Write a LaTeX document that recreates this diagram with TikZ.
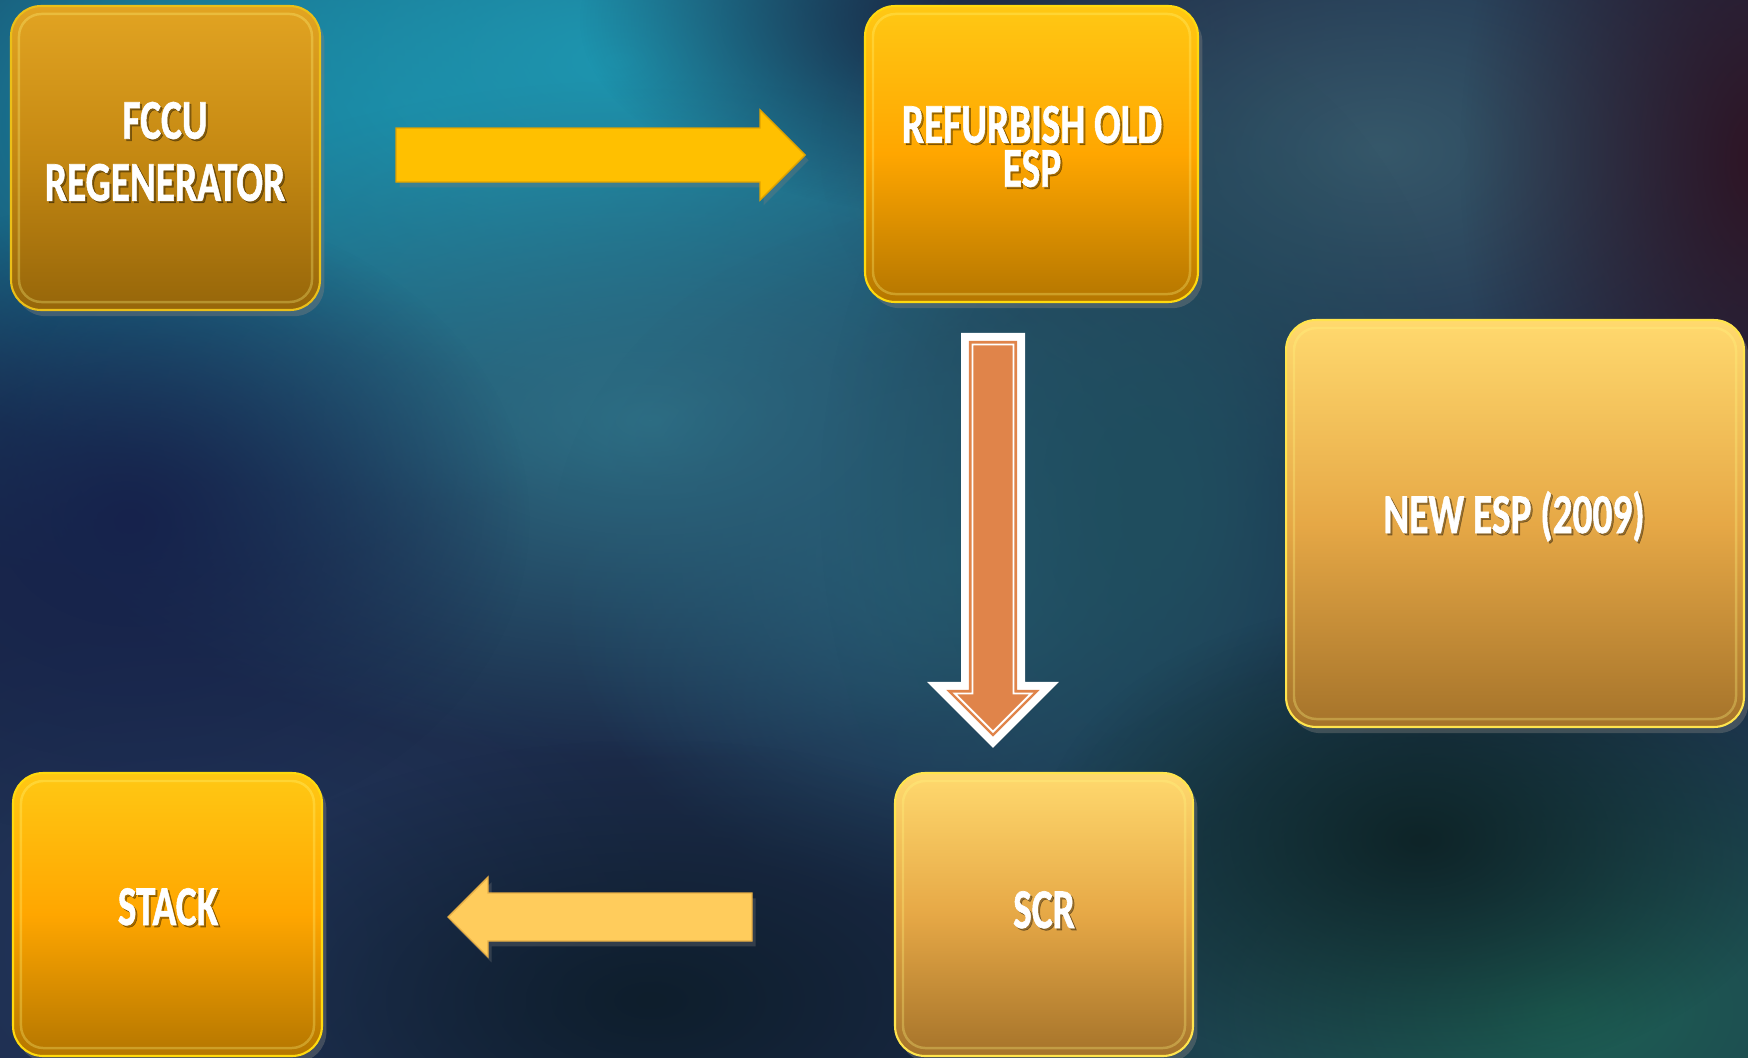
\documentclass[tikz,border=0pt]{standalone}
\usepackage{fontspec}
\setmainfont{Carlito}[BoldFeatures={FakeBold=1.2}]
\usetikzlibrary{fadings,shadows,calc}
\tikzfading[name=blobfade, inner color=transparent!0, outer color=transparent!100]
\definecolor{bgbase}{HTML}{1C2B4A}
\definecolor{arrA}{HTML}{FFC000}
\definecolor{arrAedge}{HTML}{E0A200}
\definecolor{arrC}{HTML}{FFCC5C}
\definecolor{arrCedge}{HTML}{E6AE45}
\definecolor{arrB}{HTML}{E0844A}
\definecolor{ffbox1}{HTML}{E2A422}
\definecolor{ffbox2}{HTML}{C48812}
\definecolor{ffbox3}{HTML}{96660A}
\definecolor{brbox1}{HTML}{FFC814}
\definecolor{brbox2}{HTML}{FFA600}
\definecolor{brbox3}{HTML}{B47600}
\definecolor{ltbox1}{HTML}{FFD96E}
\definecolor{ltbox2}{HTML}{E6A846}
\definecolor{ltbox3}{HTML}{A5732A}
\newcommand\lbl[1]{\scalebox{0.7}[1]{#1}}
\tikzset{
  box/.style={rectangle, rounded corners=0.6cm, inner sep=0pt, shade,
     drop shadow={shadow xshift=2.5pt, shadow yshift=-3.5pt, opacity=0.4}},
  boxdark/.style={top color=ffbox1, bottom color=ffbox3, middle color=ffbox2, draw=ffbox1!70!yellow, line width=1.2pt},
  boxbright/.style={top color=brbox1, bottom color=brbox3, middle color=brbox2, draw=brbox1!70!yellow, line width=1.2pt},
  boxlight/.style={top color=ltbox1, bottom color=ltbox3, middle color=ltbox2, draw=ltbox1!70!yellow, line width=1.2pt},
  bevel/.style={rounded corners=0.45cm, draw=yellow!50!white, opacity=0.3, line width=1.4pt},
  txt/.style={text=white, font=\fontsize{32}{36}\selectfont\bfseries, inner sep=0pt, align=center},
  txtshadow/.style={text=black, opacity=0.35, font=\fontsize{32}{36}\selectfont\bfseries, inner sep=0pt, align=center},
  blob/.style={path fading=blobfade}
}
% one-line label: name, baseline point, text
\newcommand\boxtext[3]{%
  \node[txtshadow, anchor=base, shift={(2,2)}] (#1s) at (#2) {\lbl{#3}};
  \node[txt, anchor=base] (#1) at (#2) {\lbl{#3}};}
% two-line label: name, centre point, line skip, line 1, line 2
\newcommand\boxtextii[5]{%
  \node[txtshadow, anchor=center, shift={(2,2)}, font=\fontsize{32}{#3}\selectfont\bfseries] (#1s) at (#2) {\lbl{#4}\\\lbl{#5}};
  \node[txt, anchor=center, font=\fontsize{32}{#3}\selectfont\bfseries] (#1) at (#2) {\lbl{#4}\\\lbl{#5}};}
\newcommand\bevelbox[1]{%
  \draw[bevel] ([shift={(9,9)}]#1.north west) rectangle ([shift={(-9,-9)}]#1.south east);}
\begin{document}
\begin{tikzpicture}[x=0.02cm,y=-0.02cm]
\useasboundingbox (0,0) rectangle (1748,1058);
\fill[bgbase] (0,0) rectangle (1748,1058);
\begin{scope}
\clip (0,0) rectangle (1748,1058);
\fill[blob, color={rgb,255:red,34;green,54;blue,92}] (200,950) ellipse [x radius=500, y radius=350];
\fill[blob, color={rgb,255:red,24;green,110;blue,140}] (150,130) ellipse [x radius=600, y radius=450];
\fill[blob, color={rgb,255:red,26;green,132;blue,160}] (420,120) ellipse [x radius=700, y radius=380];
\fill[blob, color={rgb,255:red,30;green,150;blue,176}] (620,60) ellipse [x radius=600, y radius=330];
\fill[blob, color={rgb,255:red,46;green,112;blue,134}] (650,420) ellipse [x radius=650, y radius=340];
\fill[blob, color={rgb,255:red,40;green,94;blue,118}] (950,560) ellipse [x radius=400, y radius=350];
\fill[blob, color={rgb,255:red,22;green,34;blue,76}] (130,520) ellipse [x radius=400, y radius=320];
\fill[blob, color={rgb,255:red,26;green,30;blue,58}] (1000,20) ellipse [x radius=420, y radius=200];
\fill[blob, color={rgb,255:red,54;green,88;blue,106}] (1380,150) ellipse [x radius=560, y radius=340];
\fill[blob, color={rgb,255:red,46;green,20;blue,36}] (1760,160) ellipse [x radius=300, y radius=480];
\fill[blob, color={rgb,255:red,31;green,78;blue,94}] (1150,500) ellipse [x radius=330, y radius=480];
\fill[blob, color={rgb,255:red,30;green,96;blue,84}] (1560,1010) ellipse [x radius=650, y radius=380];
\fill[blob, color={rgb,255:red,14;green,36;blue,40}] (1420,840) ellipse [x radius=380, y radius=240];
\fill[blob, color={rgb,255:red,14;green,30;blue,44}] (650,1000) ellipse [x radius=500, y radius=260];
\end{scope}

% boxes
\node[box, boxdark, minimum width=6.18cm, minimum height=6.08cm] (fccu) at (165.5,158) {};
\node[box, boxbright, minimum width=6.66cm, minimum height=5.92cm] (refurb) at (1031.5,154) {};
\node[box, boxlight, minimum width=9.16cm, minimum height=8.14cm] (newesp) at (1515,523.5) {};
\node[box, boxbright, minimum width=6.18cm, minimum height=5.66cm] (stack) at (167.5,914.5) {};
\node[box, boxlight, minimum width=5.96cm, minimum height=5.66cm] (scr) at (1044,914.5) {};
\bevelbox{fccu}
\bevelbox{refurb}
\bevelbox{newesp}
\bevelbox{stack}
\bevelbox{scr}

% labels
\coordinate (p1) at (165,151.5);
\coordinate (p3) at (1032,146.5);
\coordinate (p5) at (1514,533);
\coordinate (p6) at (168,925);
\coordinate (p7) at (1044,928);
\boxtextii{t1}{p1}{35.3}{FCCU}{REGENERATOR}
\boxtextii{t3}{p3}{25}{REFURBISH OLD}{ESP}
\boxtext{t5}{p5}{NEW ESP (2009)}
\boxtext{t6}{p6}{STACK}
\boxtext{t7}{p7}{SCR}

% arrow FCCU -> REFURBISH
\coordinate (a1s) at (396,155);
\coordinate (a1e) at (805,155);
\filldraw[fill=arrA, draw=arrAedge, line width=0.8pt, line join=miter,
  drop shadow={shadow xshift=2pt, shadow yshift=-3pt, opacity=0.3}]
  ($(a1s)+(0,-27)$) -- ($(a1e)+(-45,-27)$) -- ($(a1e)+(-45,-45)$) -- (a1e)
  -- ($(a1e)+(-45,45)$) -- ($(a1e)+(-45,27)$) -- ($(a1s)+(0,27)$) -- cycle;

% arrow SCR -> STACK
\coordinate (a3s) at (752,917);
\coordinate (a3e) at (448,917);
\filldraw[fill=arrC, draw=arrCedge, line width=0.8pt, line join=miter,
  drop shadow={shadow xshift=2pt, shadow yshift=-3pt, opacity=0.3}]
  ($(a3s)+(0,-24)$) -- ($(a3e)+(40,-24)$) -- ($(a3e)+(40,-40)$) -- (a3e)
  -- ($(a3e)+(40,40)$) -- ($(a3e)+(40,24)$) -- ($(a3s)+(0,24)$) -- cycle;

% arrow REFURBISH -> SCR (double-outlined)
\coordinate (a2s) at (993,344.5);
\coordinate (a2e) at (993,731.7);
\def\arrowQ{($(a2s)+(-20.5,0)$) -- ($(a2s)+(20.5,0)$) -- ($(a2e)+(20.5,-38.2)$) -- ($(a2e)+(38.2,-38.2)$) -- (a2e) -- ($(a2e)+(-38.2,-38.2)$) -- ($(a2e)+(-20.5,-38.2)$) -- cycle}
\fill[black, opacity=0.3, shift={(4,6)}] ($(a2s)+(-32,-11.5)$) -- ($(a2s)+(32,-11.5)$) -- ($(a2e)+(32,-49.7)$) -- ($(a2e)+(66,-49.7)$) -- ($(a2e)+(0,16.3)$) -- ($(a2e)+(-66,-49.7)$) -- ($(a2e)+(-32,-49.7)$) -- cycle;
\draw[white, line width=13.1pt, line join=miter] \arrowQ;
\draw[arrB, line width=4pt, line join=miter] \arrowQ;
\fill[arrB] \arrowQ;
\draw[white, line width=1.1pt, line join=miter] \arrowQ;
\end{tikzpicture}
\end{document}
